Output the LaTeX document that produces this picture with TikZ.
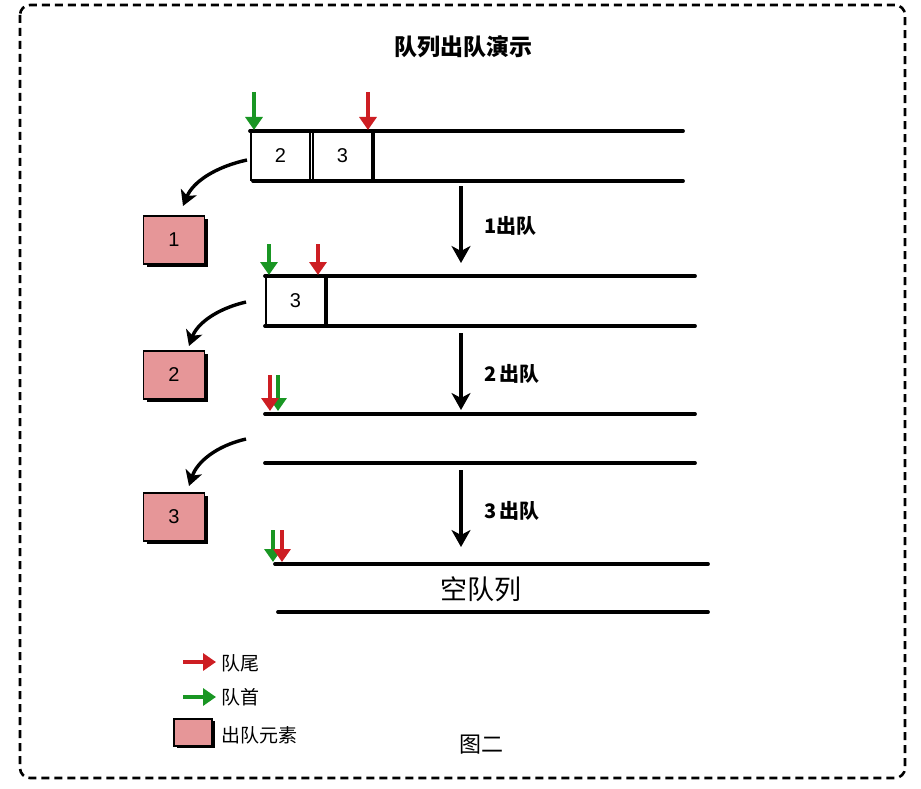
\documentclass[tikz,border=0pt]{standalone}
\usepackage{fontspec}
\setmainfont{Liberation Sans}
\newfontfamily\cjk{Noto Sans CJK SC}
\usetikzlibrary{arrows.meta,shadows}
\definecolor{qred}{RGB}{205,30,35}
\definecolor{qgreen}{RGB}{25,150,35}
\definecolor{qpink}{RGB}{230,150,152}
\tikzset{
  qline/.style={line width=3.8pt, line cap=round},
  cell/.style={draw, line width=1.8pt, fill=white, minimum width=59pt, minimum height=48pt, inner sep=0pt, font=\fontsize{20}{20}\selectfont},
  outbox/.style={draw, line width=1.8pt, fill=qpink, minimum width=61pt, minimum height=48pt, inner sep=0pt, font=\fontsize{20}{20}\selectfont,
    general shadow={fill=black, shadow xshift=3pt, shadow yshift=-3pt}},
  ptr/.style={line width=3.6pt, -{Triangle[length=13pt,width=17pt]}},
  redptr/.style={ptr, draw=qred},
  greenptr/.style={ptr, draw=qgreen},
  downarr/.style={line width=3.4pt, -{Stealth[length=17pt,width=19pt,inset=5pt]}},
  outarr/.style={line width=3.4pt, -{Stealth[length=15pt,width=17pt,inset=4pt]}},
  lbl/.style={font=\cjk\bfseries\fontsize{20}{20}\selectfont, anchor=west, inner sep=0pt},
  legtxt/.style={font=\cjk\fontsize{19}{19}\selectfont, anchor=west, inner sep=0pt}
}
\begin{document}
\begin{tikzpicture}[x=1pt,y=-1pt]
\useasboundingbox (0,0) rectangle (921,789);
\draw[line width=2.6pt, dash pattern=on 8pt off 5pt, rounded corners=10pt] (20,5) rectangle (905,778);
\node[font=\cjk\bfseries\fontsize{23}{23}\selectfont] (title) at (463,47) {队列出队演示};

% ---- row 1
\node[cell, anchor=north west] (c12) at (250,131) {2};
\node[cell, anchor=north west] (c13) at (312,131) {3};
\coordinate (r1a) at (250,131); \coordinate (r1b) at (683,131);
\coordinate (r1c) at (253,181); \coordinate (r1d) at (683,181);
\draw[qline] (r1a) -- (r1b);
\draw[qline] (r1c) -- (r1d);
\draw[line width=3.8pt] (c13.north east) -- (c13.south east);
\coordinate (g1s) at (254,92); \coordinate (g1e) at (254,130);
\coordinate (rd1s) at (368,92); \coordinate (rd1e) at (368,130);
\draw[greenptr] (g1s) -- (g1e);
\draw[redptr] (rd1s) -- (rd1e);
\node[outbox] (o1) at (174,240) {1};
\coordinate (cv1) at (247,160);
\draw[outarr] (cv1) .. controls (215,167) and (193,182) .. (183,206);
\coordinate (d1s) at (461,186); \coordinate (d1e) at (461,263);
\draw[downarr] (d1s) -- (d1e);
\node[lbl] (l1) at (484,226) {1出队};

% ---- row 2
\node[cell, anchor=north west] (c23) at (265,276) {3};
\coordinate (r2a) at (265,276); \coordinate (r2b) at (695,276);
\coordinate (r2c) at (265,326); \coordinate (r2d) at (695,326);
\draw[qline] (r2a) -- (r2b);
\draw[qline] (r2c) -- (r2d);
\draw[line width=3.8pt] (c23.north east) -- (c23.south east);
\coordinate (g2s) at (269,244); \coordinate (g2e) at (269,275);
\coordinate (rd2s) at (318,244); \coordinate (rd2e) at (318,275);
\draw[greenptr] (g2s) -- (g2e);
\draw[redptr] (rd2s) -- (rd2e);
\node[outbox] (o2) at (174,375) {2};
\coordinate (cv2) at (246,302);
\draw[outarr] (cv2) .. controls (216,309) and (197,324) .. (189,346);
\coordinate (d2s) at (461,333); \coordinate (d2e) at (461,410);
\draw[downarr] (d2s) -- (d2e);
\node[lbl] (l2) at (484,374) {2\,出队};

% ---- row 3
\coordinate (r3a) at (265,414); \coordinate (r3b) at (695,414);
\coordinate (r3c) at (265,463); \coordinate (r3d) at (695,463);
\draw[qline] (r3a) -- (r3b);
\draw[qline] (r3c) -- (r3d);
\coordinate (g3s) at (278,375); \coordinate (g3e) at (278,411);
\coordinate (rd3s) at (270,375); \coordinate (rd3e) at (270,411);
\draw[greenptr] (g3s) -- (g3e);
\draw[redptr] (rd3s) -- (rd3e);
\node[outbox] (o3) at (174,517) {3};
\coordinate (cv3) at (246,439);
\draw[outarr] (cv3) .. controls (216,446) and (197,462) .. (189,486);
\coordinate (d3s) at (461,470); \coordinate (d3e) at (461,547);
\draw[downarr] (d3s) -- (d3e);
\node[lbl] (l3) at (484,511) {3\,出队};

% ---- row 4 (empty)
\coordinate (r4a) at (275,564); \coordinate (r4b) at (708,564);
\coordinate (r4c) at (278,612); \coordinate (r4d) at (708,612);
\draw[qline] (r4a) -- (r4b);
\draw[qline] (r4c) -- (r4d);
\coordinate (g4s) at (273,530); \coordinate (g4e) at (273,562);
\coordinate (rd4s) at (282,530); \coordinate (rd4e) at (282,562);
\draw[greenptr] (g4s) -- (g4e);
\draw[redptr] (rd4s) -- (rd4e);
\node[font=\cjk\fontsize{27}{27}\selectfont] (empty) at (481,589) {空队列};

% ---- legend
\coordinate (lr1) at (183,662); \coordinate (lr2) at (216,662);
\draw[redptr] (lr1) -- (lr2);
\node[legtxt] (t1) at (221,663) {队尾};
\coordinate (lg1) at (183,697); \coordinate (lg2) at (216,697);
\draw[greenptr] (lg1) -- (lg2);
\node[legtxt] (t2) at (221,697) {队首};
\node[draw, line width=2pt, fill=qpink, minimum width=38pt, minimum height=27pt, inner sep=0pt,
  general shadow={fill=black, shadow xshift=2.5pt, shadow yshift=-2.5pt}] (lbox) at (193,732) {};
\node[legtxt] (t3) at (221,735) {出队元素};
\node[font=\cjk\fontsize{22}{22}\selectfont] (fig) at (481,745) {图二};
\end{tikzpicture}
\end{document}
